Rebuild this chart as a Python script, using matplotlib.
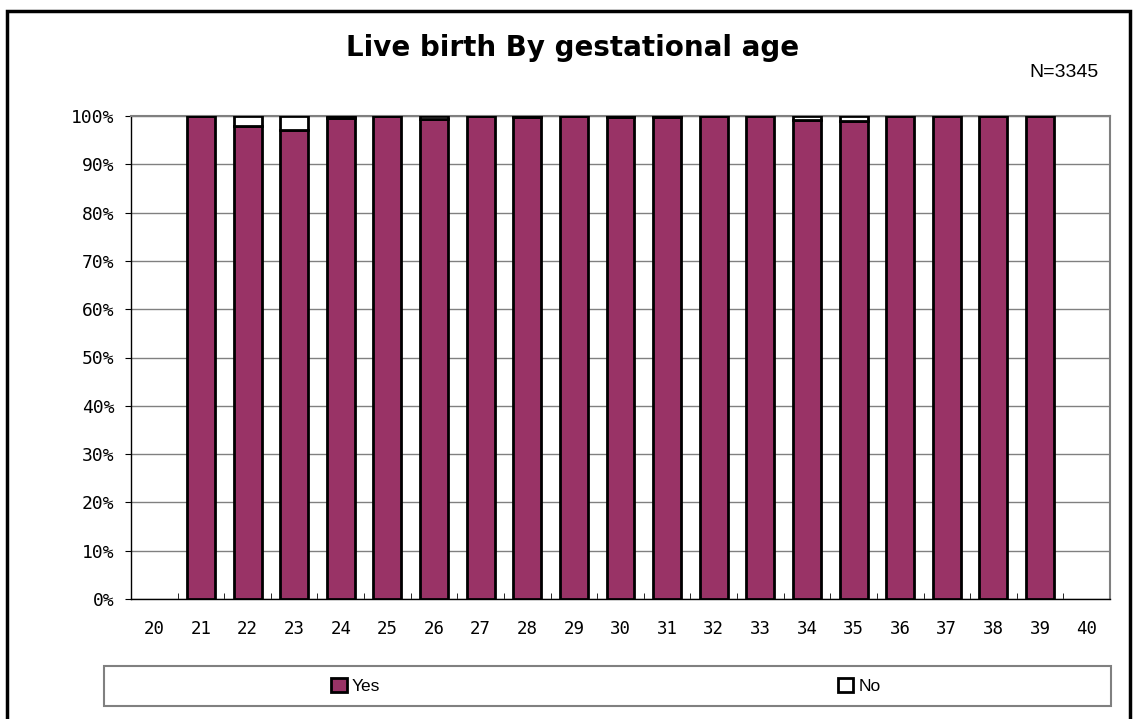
import matplotlib
matplotlib.use("Agg")
import matplotlib.pyplot as plt
from matplotlib.patches import Rectangle, Patch
import numpy as np

weeks = ["20", "21", "22", "23", "24", "25", "26", "27", "28", "29", "30",
         "31", "32", "33", "34", "35", "36", "37", "38", "39", "40"]
yes_pct = [0, 100, 97.9, 97.2, 99.5, 100, 99.3, 100, 99.7, 100, 99.7,
           99.7, 100, 100, 99.2, 98.9, 100, 100, 100, 100, 0]
no_pct = [0, 0, 2.1, 2.8, 0.5, 0, 0.7, 0, 0.3, 0, 0.3,
          0.3, 0, 0, 0.8, 1.1, 0, 0, 0, 0, 0]
yticks = [0, 10, 20, 30, 40, 50, 60, 70, 80, 90, 100]
title = "Live birth By gestational age"
note = "N=3345"
series_names = ["Yes", "No"]

W, H = 1133, 719
fig = plt.figure(figsize=(W / 100, H / 100), dpi=100)
ax = fig.add_axes([131 / W, 1 - 599 / H, (1110 - 131) / W, (599 - 116) / H])

x = np.arange(len(weeks))
bw = 0.6
mono = "DejaVu Sans Mono"
purple = "#993366"
has = [(y + n) > 0 for y, n in zip(yes_pct, no_pct)]
xs = x[has]
ys = np.array(yes_pct)[has]
ns = np.array(no_pct)[has]
ax.bar(xs, ys, width=bw, color=purple, edgecolor="black", linewidth=2, zorder=3)
ax.bar(xs, ns, bottom=ys, width=bw, color="white", edgecolor="black", linewidth=2, zorder=3)

ax.set_xlim(-0.5, len(weeks) - 0.5)
ax.set_ylim(0, 100)
ax.set_yticks(yticks)
ax.set_yticklabels([f"{v}%" for v in yticks], fontfamily=mono, fontsize=13)
ax.set_xticks(x)
ax.set_xticklabels(weeks, fontfamily=mono, fontsize=12.5)
ax.tick_params(axis="x", length=0, pad=15)
ax.set_xticks(np.arange(0.5, len(weeks) - 0.5, 1), minor=True)
ax.tick_params(axis="x", which="minor", direction="in", length=4, color="black")
ax.tick_params(axis="y", direction="out", length=4, color="black", pad=8)
ax.grid(axis="y", color="#808080", linewidth=1, zorder=0)
for s in ["top", "right"]:
    ax.spines[s].set_color("#808080")
    ax.spines[s].set_linewidth(1.5)
for s in ["left", "bottom"]:
    ax.spines[s].set_color("black")
    ax.spines[s].set_linewidth(1)

fig.text(573 / W, 1 - 48 / H, title, ha="center", va="center",
         fontsize=20, fontweight="bold", fontfamily="DejaVu Sans")
fig.text(1099 / W, 1 - 77 / H, note, ha="right", va="baseline",
         fontsize=14, fontfamily="Liberation Sans")

# legend frame
lx0, lx1 = 104, 1111
ly0, ly1 = 666, 706
fig.patches.append(Rectangle((lx0 / W, 1 - ly1 / H), (lx1 - lx0) / W, (ly1 - ly0) / H,
                             transform=fig.transFigure, fill=False,
                             edgecolor="#808080", linewidth=1.5))
colors = [purple, "white"]
half = (lx1 - lx0) / 2
for i, (name, c) in enumerate(zip(series_names, colors)):
    cx = lx0 + half * (i + 0.5)
    h = [Patch(facecolor=c, edgecolor="black", linewidth=2, label=name)]
    fig.legend(handles=h, loc="center", bbox_to_anchor=(cx / W, 1 - 686 / H),
               frameon=False, handlelength=0.9, handleheight=0.9,
               handletextpad=0.3, borderaxespad=0, borderpad=0,
               prop={"family": "Liberation Sans", "size": 12.5})

fig.patches.append(Rectangle((6.5 / W, -0.05), (1129.5 - 6.5) / W, 1.05 - 10.5 / H,
                             transform=fig.transFigure, fill=False,
                             edgecolor="black", linewidth=2.5))
fig.savefig("out.png", dpi=100, facecolor="white")
